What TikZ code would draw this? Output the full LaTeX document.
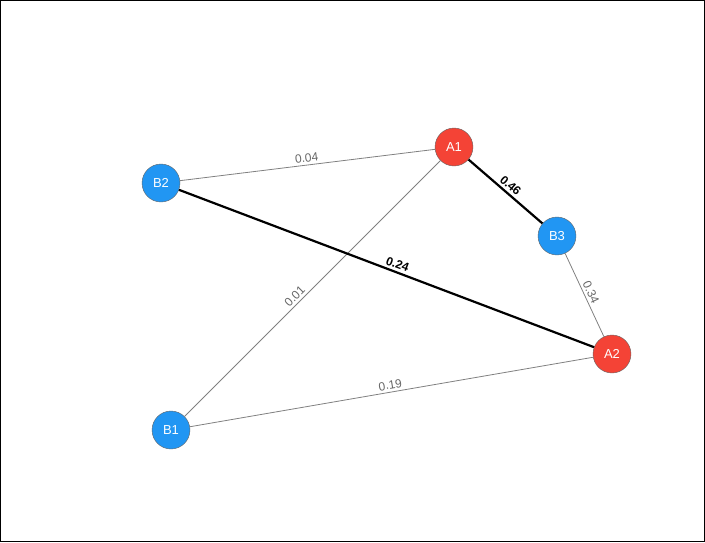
\documentclass[tikz,border=0pt]{standalone}
\usepackage{fontspec}
\setmainfont{Liberation Sans}
\definecolor{nblue}{HTML}{2196F3}
\definecolor{nred}{HTML}{F44336}
\begin{document}
\begin{tikzpicture}[x=1pt,y=-1pt,
  vb/.style={circle,draw=black!60,fill=nblue,minimum size=38pt,inner sep=0pt,text=white,font=\fontsize{13}{13}\selectfont},
  va/.style={vb,fill=nred},
  thin edge/.style={draw=black!50,line width=0.8pt},
  thick edge/.style={draw=black,line width=2.2pt},
  tl/.style={sloped,above,font=\fontsize{12}{12}\selectfont,text=black!60,inner sep=2.5pt},
  bl/.style={sloped,above,font=\bfseries\fontsize{12}{12}\selectfont,text=black,inner sep=2.5pt}]
\useasboundingbox (0,0) rectangle (705,542);
\draw[line width=1pt] (0.5,0.5) rectangle (704.5,541.5);
\node[va] (A1) at (454,147) {A1};
\node[vb] (B3) at (557,236) {B3};
\node[va] (A2) at (612,354) {A2};
\node[vb] (B2) at (161,183) {B2};
\node[vb] (B1) at (171,430) {B1};
\path[thin edge] (B2) -- node[tl] {0.04} (A1);
\path[thin edge] (B1) -- node[tl,pos=0.45] {0.01} (A1);
\path[thin edge] (B1) -- node[tl] {0.19} (A2);
\path[thin edge] (B3) -- node[tl] {0.34} (A2);
\path[thick edge] (A1) -- node[bl] {0.46} (B3);
\path[thick edge] (B2) -- node[bl,pos=0.52] {0.24} (A2);
\end{tikzpicture}
\end{document}
